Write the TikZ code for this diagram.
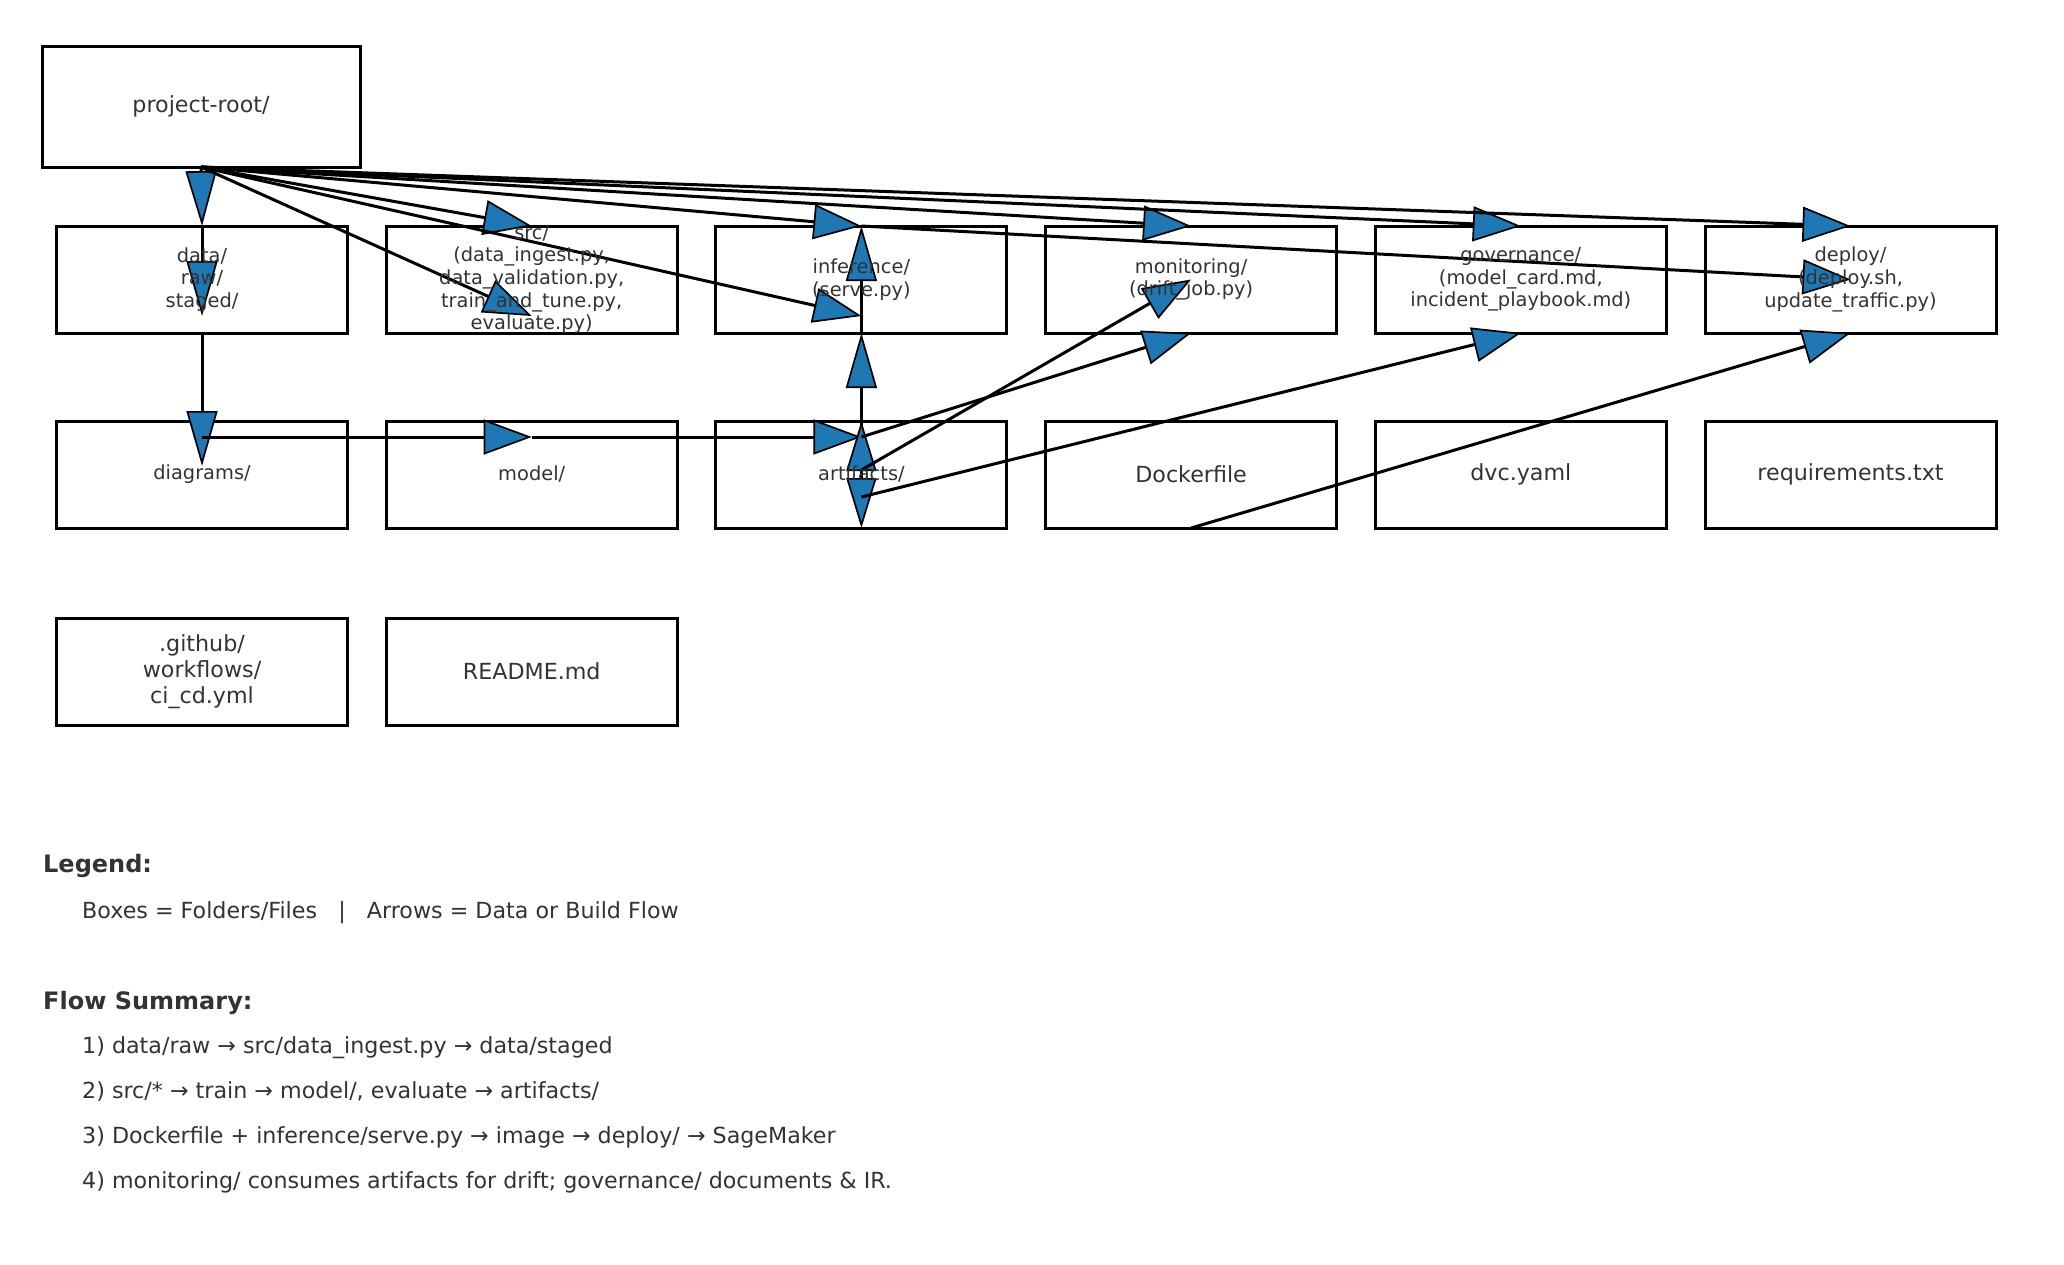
\documentclass[tikz,border=0pt]{standalone}
\usepackage{fontspec}
\setmainfont{DejaVu Sans}
\usetikzlibrary{arrows.meta}
\definecolor{tabblue}{HTML}{1F77B4}
\definecolor{txtgray}{HTML}{333333}
\begin{document}
\begin{tikzpicture}[x=1pt,y=-1pt,
 box/.style={draw=black,line width=3pt,minimum width=291pt,minimum height=107pt,inner sep=0pt,outer sep=0pt},
 flowH/.style={draw=black,line width=3pt,-{Triangle[length=48pt,width=35pt,fill=tabblue,line width=1.7pt]}},
 flowV/.style={draw=black,line width=3pt,-{Triangle[length=55pt,width=31pt,fill=tabblue,line width=1.7pt]}},
 flowD/.style={draw=black,line width=3pt,-{Triangle[length=50pt,width=30pt,fill=tabblue,line width=1.7pt]}},
 sm/.style={text=txtgray,align=center,inner sep=0pt,font=\fontsize{19.4}{22.6}\selectfont},
 lg/.style={text=txtgray,align=center,inner sep=0pt,font=\fontsize{22.2}{25.8}\selectfont},
 headtxt/.style={text=txtgray,anchor=base west,inner sep=0pt,font=\bfseries\fontsize{24}{28}\selectfont},
 bodytxt/.style={text=txtgray,anchor=base west,inner sep=0pt,font=\fontsize{22.2}{26}\selectfont}]

\fill[white] (0,0) rectangle (2064,1264);
\useasboundingbox (0,0) rectangle (2064,1264);

% boxes
\node[box,minimum width=318pt,minimum height=121pt] (root) at (201,106.5) {};
\node[box] (data) at (202,279.5) {};
\node[box] (src) at (531.7,279.5) {};
\node[box] (inf) at (861.4,279.5) {};
\node[box] (mon) at (1191.1,279.5) {};
\node[box] (gov) at (1520.8,279.5) {};
\node[box] (dep) at (1850.5,279.5) {};
\node[box] (diag) at (202,474.5) {};
\node[box] (model) at (531.7,474.5) {};
\node[box] (art) at (861.4,474.5) {};
\node[box] (dock) at (1191.1,474.5) {};
\node[box] (dvc) at (1520.8,474.5) {};
\node[box] (req) at (1850.5,474.5) {};
\node[box] (gh) at (202,671.5) {};
\node[box] (readme) at (531.7,671.5) {};

% arrow end points
\coordinate (datalow) at (202,316);
\coordinate (srclow) at (531.7,316);
\coordinate (inflow) at (861.4,316);
\coordinate (diagtip) at (202,466);
\coordinate (diaghi) at (202,437);
\coordinate (modhi) at (531.7,437);
\coordinate (arthi) at (861.4,437);
\coordinate (artmid) at (861.4,470);
\coordinate (artlow) at (861.4,497);

% arrows
\draw[flowV] (root.south) -- (data.north);
\draw[flowH] (root.south) -- (src.north);
\draw[flowH] (root.south) -- (srclow);
\draw[flowH] (root.south) -- (inf.north);
\draw[flowH] (root.south) -- (inflow);
\draw[flowH] (root.south) -- (mon.north);
\draw[flowH] (root.south) -- (gov.north);
\draw[flowH] (root.south) -- (dep.north);
\draw[flowH] (inf.north) -- (dep.center);
\draw[flowV] (data.north) -- (datalow);
\draw[flowV] (data.south) -- (diagtip);
\draw[flowH] (diaghi) -- (modhi);
\draw[flowH] (modhi) -- (arthi);
\draw[flowV] (artmid) -- (inf.south);
\draw[flowV] (inf.south) -- (inf.north);
\draw[flowD] (art.center) -- (art.north);
\draw[flowD] (art.center) -- (art.south);
\draw[flowH] (arthi) -- (mon.south);
\draw[flowH] (artmid) -- (mon.center);
\draw[flowH] (artlow) -- (gov.south);
\draw[flowH] (dock.south) -- (dep.south);

% box texts
\node[lg] (t-root) at (root) {project-root/};
\node[sm] (t-data) at (data) {data/\\raw/\\staged/};
\node[sm] (t-src) at (src) {src/\\(data\_ingest.py,\\data\_validation.py,\\train\_and\_tune.py,\\evaluate.py)};
\node[sm] (t-inf) at (inf) {inference/\\(serve.py)};
\node[sm] (t-mon) at (mon) {monitoring/\\(drift\_job.py)};
\node[sm] (t-gov) at (gov) {governance/\\(model\_card.md,\\incident\_playbook.md)};
\node[sm] (t-dep) at (dep) {deploy/\\(deploy.sh,\\update\_traffic.py)};
\node[sm] (t-diag) at (diag) {diagrams/};
\node[sm] (t-model) at (model) {model/};
\node[sm] (t-art) at (art) {artifacts/};
\node[lg] (t-dock) at (dock) {Dockerfile};
\node[lg] (t-dvc) at (dvc) {dvc.yaml};
\node[lg] (t-req) at (req) {requirements.txt};
\node[lg] (t-gh) at (gh) {.github/\\workflows/\\ci\_cd.yml};
\node[lg] (t-readme) at (readme) {README.md};

% legend and summary
\node[headtxt] (legend) at (43,872) {Legend:};
\node[bodytxt] (legendbody) at (82,918) {Boxes = Folders/Files\ \ \ |\ \ \ Arrows = Data or Build Flow};
\node[headtxt] (flowtitle) at (43,1009) {Flow Summary:};
\node[bodytxt] (f1) at (82,1053) {1) data/raw → src/data\_ingest.py → data/staged};
\node[bodytxt] (f2) at (82,1098) {2) src/* → train → model/, evaluate → artifacts/};
\node[bodytxt] (f3) at (82,1143) {3) Dockerfile + inference/serve.py → image → deploy/ → SageMaker};
\node[bodytxt] (f4) at (82,1188) {4) monitoring/ consumes artifacts for drift; governance/ documents \& IR.};
\end{tikzpicture}
\end{document}
